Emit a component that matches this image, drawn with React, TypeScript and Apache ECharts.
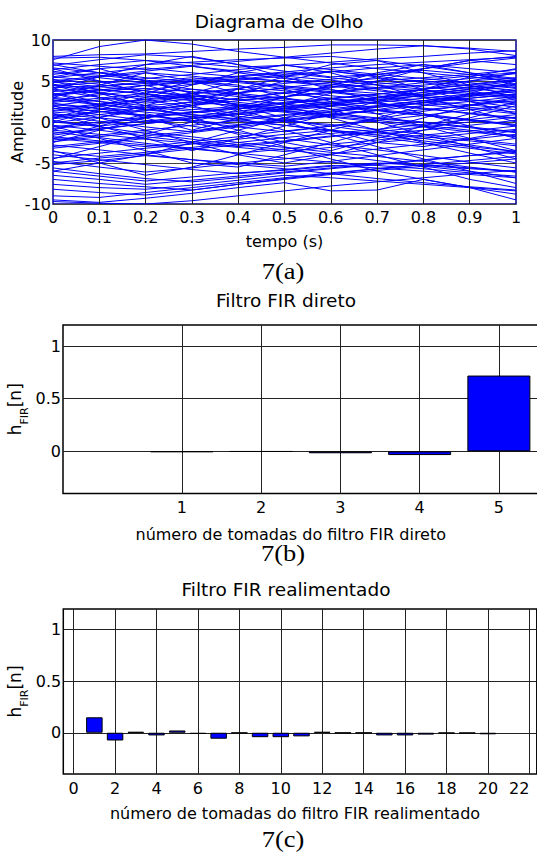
import React, { useEffect, useRef } from "react";
import * as echarts from "echarts";

// ---------- data ----------
const eyeTime = [0, 0.1, 0.2, 0.3, 0.4, 0.5, 0.6, 0.7, 0.8, 0.9, 1];
const eyeTraces: number[][] = [
  [7.6, 9.2, 10, 9.5, 8.6, 7.9, 7.2, 6.5, 6.0, 5.5, 5.0],
  [8.0, 8.2, 8.3, 8.6, 8.9, 9.1, 9.4, 9.4, 9.3, 8.9, 8.1],
  [7.8, 7.9, 7.5, 6.8, 6.0, 5.3, 4.8, 4.0, 3.1, 2.5, 1.8],
  [6.9, 7.6, 8.2, 7.9, 7.0, 6.2, 5.5, 5.8, 6.5, 7.2, 7.8],
  [6.2, 5.4, 4.8, 4.0, 3.3, 2.8, 2.2, 1.5, 1.0, 0.3, -0.5],
  [5.8, 6.5, 7.0, 7.3, 7.6, 7.8, 8.0, 7.5, 6.8, 6.0, 5.3],
  [5.2, 4.6, 3.8, 3.0, 2.1, 1.4, 0.8, 1.5, 2.4, 3.2, 4.1],
  [4.8, 5.5, 6.0, 5.6, 5.0, 4.4, 3.9, 3.5, 3.0, 2.7, 2.4],
  [4.5, 3.6, 2.7, 1.8, 1.0, 0.2, -0.5, -1.3, -2.0, -2.8, -3.6],
  [4.2, 4.4, 4.7, 5.2, 5.6, 6.1, 6.6, 7.0, 7.3, 7.6, 7.9],
  [3.9, 3.0, 2.3, 2.8, 3.5, 4.2, 4.8, 5.3, 5.0, 4.4, 3.8],
  [3.5, 2.5, 1.6, 0.9, 0.3, -0.4, -1.1, -1.8, -2.6, -3.2, -3.9],
  [3.2, 3.8, 4.1, 3.7, 3.1, 2.6, 2.0, 2.5, 3.3, 4.0, 4.6],
  [2.9, 2.2, 1.5, 2.0, 2.9, 3.5, 4.2, 4.6, 5.1, 5.6, 6.0],
  [2.6, 3.3, 3.9, 4.6, 5.2, 5.8, 6.2, 5.6, 4.8, 4.1, 3.5],
  [2.3, 1.6, 0.8, 0.1, -0.6, -1.2, -0.5, 0.4, 1.3, 2.1, 2.8],
  [2.0, 2.7, 3.2, 2.6, 1.9, 1.3, 0.9, 0.4, -0.1, -0.7, -1.3],
  [1.7, 0.9, 0.2, -0.5, -1.3, -2.0, -2.8, -3.4, -4.1, -4.9, -5.6],
  [1.4, 2.1, 2.8, 3.4, 4.0, 3.5, 2.9, 2.2, 1.6, 1.1, 0.5],
  [1.1, 1.5, 2.0, 2.4, 2.0, 1.7, 2.3, 3.0, 3.6, 4.3, 5.0],
  [0.8, 0.1, -0.6, -1.2, -0.4, 0.5, 1.2, 1.9, 2.6, 3.3, 3.9],
  [0.5, 1.2, 1.8, 1.3, 0.7, 0.1, -0.3, -0.9, -1.5, -2.1, -2.7],
  [0.2, -0.6, -1.4, -2.1, -2.8, -3.4, -4.0, -4.7, -5.4, -6.0, -6.8],
  [-0.1, 0.6, 1.4, 2.2, 2.9, 3.6, 4.3, 5.0, 5.4, 5.8, 6.4],
  [-0.4, -1.0, -1.7, -1.1, -0.4, 0.3, 0.9, 1.4, 0.8, 0.2, -0.4],
  [-0.8, -0.2, 0.5, 1.1, 1.6, 2.2, 2.8, 2.3, 1.7, 1.0, 0.4],
  [-1.2, -1.9, -2.6, -3.2, -3.8, -4.4, -4.9, -5.3, -5.7, -6.2, -6.6],
  [-1.6, -0.9, -0.2, 0.4, 1.0, 1.6, 2.0, 2.4, 2.9, 3.4, 3.8],
  [-2.0, -2.5, -3.0, -2.4, -1.8, -1.1, -0.5, 0.2, 0.8, 1.5, 2.2],
  [-2.4, -1.8, -1.2, -1.8, -2.5, -3.1, -3.7, -4.2, -4.8, -5.5, -6.1],
  [-2.8, -3.4, -4.0, -4.6, -5.0, -5.4, -4.8, -4.1, -3.4, -2.7, -2.0],
  [-3.2, -2.6, -2.0, -1.3, -0.6, 0.1, 0.7, 0.2, -0.4, -1.0, -1.7],
  [-3.6, -4.2, -3.7, -3.1, -2.5, -1.9, -1.4, -0.9, -0.3, 0.3, 0.9],
  [-4.0, -4.6, -5.2, -5.8, -6.3, -5.8, -5.3, -5.6, -6.0, -6.4, -6.8],
  [-4.4, -3.8, -3.2, -2.7, -2.1, -1.5, -1.0, -1.6, -2.3, -3.0, -3.6],
  [-4.8, -5.5, -6.1, -5.6, -5.0, -4.5, -3.9, -3.3, -2.7, -2.1, -1.5],
  [-5.2, -4.7, -4.1, -4.6, -5.2, -5.7, -6.3, -6.9, -7.4, -7.9, -8.3],
  [-5.6, -6.3, -6.9, -7.3, -6.8, -6.2, -5.7, -5.2, -4.7, -4.1, -3.5],
  [-6.0, -6.6, -7.2, -6.7, -6.2, -5.9, -5.4, -5.0, -5.3, -5.7, -6.0],
  [-6.5, -7.0, -7.6, -7.1, -6.6, -6.1, -5.6, -5.1, -4.6, -4.1, -3.7],
  [-7.0, -7.5, -7.9, -8.3, -7.6, -6.9, -6.3, -5.7, -5.2, -4.7, -4.2],
  [-7.6, -8.0, -8.2, -7.7, -7.1, -6.5, -6.8, -7.2, -7.6, -8.0, -8.4],
  [-8.2, -8.6, -8.9, -8.3, -7.6, -7.0, -6.4, -5.9, -5.4, -5.0, -4.5],
  [-9.0, -9.2, -8.6, -8.0, -7.4, -6.8, -6.2, -5.7, -5.2, -5.6, -6.1],
  [-9.5, -9.8, -9.3, -8.7, -8.0, -7.4, -8.4, -8.3, -7.0, -8.0, -9.5],
  [-9.7, -9.9, -10, -9.6, -9.0, -8.4, -7.8, -7.3, -6.8, -6.3, -5.9],
  [5.5, 5.0, 4.4, 4.9, 5.3, 5.0, 4.6, 4.2, 3.8, 3.3, 2.9],
  [4.9, 4.3, 3.8, 3.2, 2.7, 3.1, 3.6, 4.1, 4.5, 5.0, 5.4],
  [3.7, 4.3, 4.9, 5.4, 4.8, 4.3, 3.7, 3.2, 2.6, 2.1, 1.5],
  [3.0, 2.5, 2.0, 1.5, 1.9, 2.4, 2.9, 3.4, 3.9, 3.5, 3.0],
  [2.4, 2.9, 3.5, 4.0, 3.5, 2.9, 2.3, 1.8, 2.3, 2.9, 3.4],
  [1.9, 1.3, 0.7, 1.2, 1.8, 2.3, 2.8, 3.4, 4.0, 4.6, 5.2],
  [1.3, 1.9, 2.5, 3.1, 3.6, 4.1, 3.6, 3.0, 2.4, 1.8, 1.2],
  [0.7, 1.3, 0.8, 0.2, -0.3, 0.2, 0.8, 1.4, 2.0, 2.5, 3.1],
  [0.0, -0.5, 0.1, 0.7, 1.3, 1.9, 2.5, 3.0, 3.6, 4.2, 4.7],
  [-0.6, 0.0, 0.6, 1.2, 1.7, 1.2, 0.6, 0.0, -0.6, -1.2, -1.8],
  [6.6, 6.0, 5.4, 4.9, 4.3, 3.8, 3.2, 2.7, 2.1, 1.6, 1.0],
  [5.0, 5.6, 6.2, 6.8, 6.2, 5.6, 5.1, 4.5, 4.0, 4.5, 5.1],
  [4.0, 3.5, 3.0, 3.5, 4.1, 4.7, 5.2, 5.8, 6.3, 5.8, 5.2],
  [3.4, 4.0, 3.4, 2.8, 2.2, 1.6, 1.1, 0.5, 0.0, -0.6, -1.2],
  [2.7, 2.1, 1.5, 0.9, 0.4, 0.9, 1.5, 2.0, 2.6, 3.1, 3.7],
  [1.6, 2.2, 2.7, 3.2, 2.7, 2.2, 1.6, 1.0, 1.5, 2.0, 2.6],
  [-1.4, -0.8, -0.2, 0.4, 0.9, 1.4, 1.9, 1.4, 0.8, 0.3, -0.3],
  [-2.2, -1.6, -1.0, -0.4, 0.2, 0.8, 1.3, 1.8, 2.4, 2.9, 3.4],
  [-3.0, -2.4, -1.8, -2.4, -3.0, -2.4, -1.8, -1.2, -0.6, 0.0, 0.6],
  [6.4, 7.0, 7.5, 7.2, 6.7, 6.9, 7.3, 7.7, 8.0, 8.4, 8.7],
  [7.2, 6.8, 6.4, 6.9, 7.4, 7.9, 8.4, 8.9, 9.3, 9.0, 8.6],
  [5.4, 6.0, 6.6, 6.0, 5.5, 4.9, 4.4, 3.8, 3.3, 2.7, 2.2],
  [4.6, 4.0, 3.4, 2.9, 2.4, 1.8, 2.3, 2.9, 3.4, 4.0, 4.5],
  [2.1, 1.7, 1.2, 0.7, 0.1, -0.4, -1.0, -1.5, -1.0, -0.4, 0.2],
  [1.0, 0.5, 0.0, 0.5, 1.1, 1.6, 2.2, 2.7, 3.2, 3.8, 4.3],
  [-1.0, -1.5, -2.1, -2.6, -3.1, -3.6, -3.1, -2.5, -2.0, -1.4, -0.9],
  [3.3, 3.9, 4.5, 5.0, 5.5, 6.0, 5.4, 4.8, 4.3, 3.7, 3.2],
  [0.4, 0.9, 1.5, 2.0, 2.6, 3.1, 3.7, 4.2, 4.8, 5.3, 5.9],
  [-1.8, -2.3, -2.8, -3.3, -3.8, -3.3, -2.7, -2.2, -1.6, -1.1, -0.5],
  [6.0, 5.7, 5.1, 4.6, 5.1, 5.6, 6.1, 6.6, 7.0, 6.5, 6.0],
  [4.4, 4.8, 5.3, 5.8, 6.4, 6.9, 6.4, 5.8, 5.3, 4.8, 4.2],
  [-5.0, -4.4, -3.9, -3.3, -2.8, -2.3, -1.7, -1.2, -1.8, -2.3, -2.9],
  [3.0, 4.5, 6.0, 5.0, 3.5, 2.0, 0.5, -1.0, -2.5, -3.8, -5.0],
  [-2.5, -1.0, 0.5, 2.0, 3.5, 5.0, 6.2, 5.5, 4.0, 2.5, 1.0],
  [5.0, 3.5, 2.0, 0.5, -1.0, -2.5, -3.5, -2.0, -0.5, 1.0, 2.5],
  [0.0, 1.5, 3.0, 4.5, 6.0, 7.0, 6.0, 4.5, 3.0, 1.5, 0.0],
  [-4.5, -3.0, -1.5, 0.0, 1.5, 3.0, 4.5, 5.5, 6.5, 7.5, 8.0],
  [6.5, 5.0, 3.5, 2.0, 0.5, -1.0, -2.5, -4.0, -5.5, -7.0, -8.0],
  [2.0, 0.5, -1.0, -2.5, -4.0, -5.0, -4.0, -2.5, -1.0, 0.5, 2.0],
  [-3.5, -5.0, -6.5, -5.5, -4.0, -2.5, -1.0, 0.5, 2.0, 3.5, 5.0],
  [4.0, 5.5, 7.0, 8.0, 7.0, 5.5, 4.0, 2.5, 1.0, -0.5, -2.0],
  [1.0, -0.5, -2.0, -3.5, -2.0, -0.5, 1.0, 2.5, 4.0, 5.5, 6.5],
  [-1.0, 0.5, 2.0, 3.5, 5.0, 4.0, 2.5, 1.0, -0.5, -2.0, -3.5],
  [3.5, 2.0, 0.5, -1.0, 0.5, 2.0, 3.5, 5.0, 6.5, 7.5, 7.0],
  [-6.0, -5.0, -4.0, -2.5, -1.0, 0.5, 2.0, 3.0, 4.0, 5.0, 6.0],
  [7.0, 6.0, 5.0, 3.5, 2.0, 0.5, -1.0, -2.5, -3.0, -2.0, -1.0],
  [2.5, 3.5, 4.5, 3.0, 1.5, 0.0, -1.5, -3.0, -4.5, -6.0, -7.5],
  [-0.5, -2.0, -3.5, -5.0, -5.5, -4.0, -2.5, -1.0, 0.5, 2.0, 3.0],
  [4.5, 3.0, 1.5, 2.5, 4.0, 5.5, 7.0, 7.5, 6.0, 4.5, 3.0],
  [0.5, 2.0, 3.5, 5.0, 4.5, 3.0, 1.5, 0.0, -1.5, -3.0, -4.5],
  [-2.0, -0.5, 1.0, 0.0, -1.5, -3.0, -4.5, -6.0, -7.0, -8.0, -8.8],
  [5.5, 6.5, 5.0, 3.5, 2.0, 3.0, 4.5, 6.0, 7.0, 6.0, 4.5],
];
const eyeXTicks = [0, 0.1, 0.2, 0.3, 0.4, 0.5, 0.6, 0.7, 0.8, 0.9, 1];
const eyeYTicks = [-10, -5, 0, 5, 10];

const directTaps = [1, 2, 3, 4, 5];
const directValues = [-0.006, -0.002, -0.018, -0.035, 0.72];
const directXTicks = [1, 2, 3, 4, 5];

const feedbackTaps = [1, 2, 3, 4, 5, 6, 7, 8, 9, 10, 11, 12, 13, 14, 15, 16, 17, 18, 19, 20];
const feedbackValues = [
  0.15, -0.075, 0.008, -0.026, 0.022, -0.012, -0.058, -0.003, -0.043, -0.043,
  -0.035, 0.008, -0.002, -0.002, -0.026, -0.026, -0.018, -0.004, -0.004, -0.015,
];
const feedbackXTicks = [0, 2, 4, 6, 8, 10, 12, 14, 16, 18, 20, 22];
const hYTicks = [0, 0.5, 1];

const titles = ["Diagrama de Olho", "Filtro FIR direto", "Filtro FIR realimentado"];
const captions = ["7(a)", "7(b)", "7(c)"];

// ---------- styling ----------
const SANS = '"DejaVu Sans", "Liberation Sans", sans-serif';
const SERIF = '"Liberation Serif", serif';
const BLUE = "#0000ff";

const labelStyle = (margin: number) => ({
  color: "#000",
  fontFamily: SANS,
  fontSize: 16,
  margin,
});

const nameStyle = (shiftLeft: number) => ({
  color: "#000",
  fontFamily: SANS,
  fontSize: 16,
  padding: [0, shiftLeft * 2, 0, 0],
});

const hName = "{m|h}{s|FIR}{m|[n]}";
const hNameStyle = {
  color: "#000",
  fontFamily: SANS,
  rich: {
    m: { fontFamily: SANS, fontSize: 17, color: "#000", lineHeight: 30, verticalAlign: "middle" },
    s: { fontFamily: SANS, fontSize: 11, color: "#000", verticalAlign: "bottom" },
  },
};

export default function App() {
  const ref = useRef<HTMLDivElement>(null);

  useEffect(() => {
    if (!ref.current) return;
    const chart = echarts.init(ref.current, null, { renderer: "svg" });

    const traceSeries = eyeTraces.map((tr) => ({
      type: "line",
      xAxisIndex: 0,
      yAxisIndex: 0,
      data: eyeTime.map((t, i) => [t, tr[i]]),
      symbol: "none",
      showSymbol: false,
      silent: true,
      z: 2,
      lineStyle: { color: BLUE, width: 1 },
    }));

    const option: any = {
      animation: false,
      backgroundColor: "#fff",
      textStyle: { fontFamily: SANS },
      title: [
        { text: titles[0], left: 279, top: 21 },
        { text: titles[1], left: 286, top: 300 },
        { text: titles[2], left: 286, top: 589 },
      ].map((t) => ({
        ...t,
        padding: 0,
        textAlign: "center",
        textVerticalAlign: "middle",
        textStyle: { fontFamily: SANS, fontSize: 18.5, fontWeight: "normal", color: "#000" },
      })),
      grid: [
        { left: 53, top: 40, width: 463, height: 164, show: true, borderColor: "#00008b", borderWidth: 1.5, outerBoundsMode: "none", containLabel: false },
        { left: 63, top: 325, width: 475.5, height: 168.5, show: true, borderColor: "#000", borderWidth: 1.5, outerBoundsMode: "none", containLabel: false },
        { left: 63.3, top: 609, width: 473.5, height: 165, show: true, borderColor: "#000", borderWidth: 1.5, outerBoundsMode: "none", containLabel: false },
      ],
      xAxis: [
        {
          gridIndex: 0,
          type: "value",
          min: 0,
          max: 1,
          axisLine: { show: false },
          axisTick: { show: false, customValues: eyeXTicks },
          axisLabel: { ...labelStyle(5), customValues: eyeXTicks, formatter: (v: number) => String(Math.round(v * 10) / 10) },
          splitLine: { show: false },
          name: "tempo (s)",
          nameLocation: "middle",
          nameGap: 29,
          nameMoveOverlap: false,
          nameTextStyle: nameStyle(0),
        },
        {
          gridIndex: 1,
          type: "value",
          min: -0.5,
          max: 5.5,
          axisLine: { show: false },
          axisTick: { show: false, customValues: directXTicks },
          axisLabel: { ...labelStyle(6), customValues: directXTicks },
          splitLine: { show: true, lineStyle: { color: "#222", width: 1 } },
          name: "número de tomadas do filtro FIR direto",
          nameLocation: "middle",
          nameGap: 33,
          nameMoveOverlap: false,
          nameTextStyle: nameStyle(10),
        },
        {
          gridIndex: 2,
          type: "value",
          min: -0.5,
          max: 22.36,
          axisLine: { show: false },
          axisTick: { show: false, customValues: feedbackXTicks },
          axisLabel: { ...labelStyle(6), customValues: feedbackXTicks, alignMaxLabel: "right" },
          splitLine: { show: true, lineStyle: { color: "#222", width: 1 } },
          name: "número de tomadas do filtro FIR realimentado",
          nameLocation: "middle",
          nameGap: 31,
          nameMoveOverlap: false,
          nameTextStyle: nameStyle(5),
        },
      ],
      yAxis: [
        {
          gridIndex: 0,
          type: "value",
          min: -10,
          max: 10,
          axisLine: { show: false },
          axisTick: { show: false, customValues: eyeYTicks },
          axisLabel: { ...labelStyle(2), customValues: eyeYTicks },
          splitLine: { show: true, lineStyle: { color: "#444", width: 1 } },
          name: "Amplitude",
          nameLocation: "middle",
          nameGap: 28,
          nameMoveOverlap: false,
          nameTextStyle: nameStyle(0),
        },
        {
          gridIndex: 1,
          type: "value",
          min: -0.4,
          max: 1.2,
          axisLine: { show: false },
          axisTick: { show: false, customValues: hYTicks },
          axisLabel: { ...labelStyle(2), customValues: hYTicks },
          splitLine: { show: true, lineStyle: { color: "#222", width: 1 } },
          name: hName,
          nameLocation: "middle",
          nameGap: 33,
          nameMoveOverlap: false,
          nameTextStyle: hNameStyle,
        },
        {
          gridIndex: 2,
          type: "value",
          min: -0.4,
          max: 1.2,
          axisLine: { show: false },
          axisTick: { show: false, customValues: hYTicks },
          axisLabel: { ...labelStyle(2), customValues: hYTicks },
          splitLine: { show: true, lineStyle: { color: "#222", width: 1 } },
          name: hName,
          nameLocation: "middle",
          nameGap: 33,
          nameMoveOverlap: false,
          nameTextStyle: hNameStyle,
        },
      ],
      series: [
        ...traceSeries,
        {
          type: "line",
          xAxisIndex: 0,
          yAxisIndex: 0,
          data: [],
          silent: true,
          z: 4,
          markLine: {
            silent: true,
            symbol: ["none", "none"],
            label: { show: false },
            lineStyle: { color: "#222", width: 1, type: "solid" },
            data: eyeXTicks.slice(1, -1).map((v) => ({ xAxis: v })),
          },
        },
        {
          type: "bar",
          xAxisIndex: 1,
          yAxisIndex: 1,
          data: directTaps.map((t, i) => [t, directValues[i]]),
          barWidth: 63,
          silent: true,
          itemStyle: { color: BLUE, borderColor: "#000", borderWidth: 1 },
        },
        {
          type: "bar",
          xAxisIndex: 2,
          yAxisIndex: 2,
          data: feedbackTaps.map((t, i) => [t, feedbackValues[i]]),
          barWidth: 16.5,
          silent: true,
          itemStyle: { color: BLUE, borderColor: "#000", borderWidth: 1 },
        },
      ],
      graphic: [
        { x: 283, y: 271, text: captions[0] },
        { x: 283, y: 553, text: captions[1] },
        { x: 283, y: 839, text: captions[2] },
      ].map((c) => ({
        type: "text",
        x: c.x,
        y: c.y,
        scaleX: 1.15,
        silent: true,
        style: {
          text: c.text,
          fontFamily: SERIF,
          fontSize: 23,
          fill: "#000",
          textAlign: "center",
          align: "center",
          textVerticalAlign: "middle",
          verticalAlign: "middle",
        },
      })),
    };

    chart.setOption(option);
    return () => chart.dispose();
  }, []);

  return (
    <div
      ref={ref}
      style={{ position: "fixed", left: 0, top: 0, width: 537, height: 855, background: "#fff" }}
    />
  );
}
